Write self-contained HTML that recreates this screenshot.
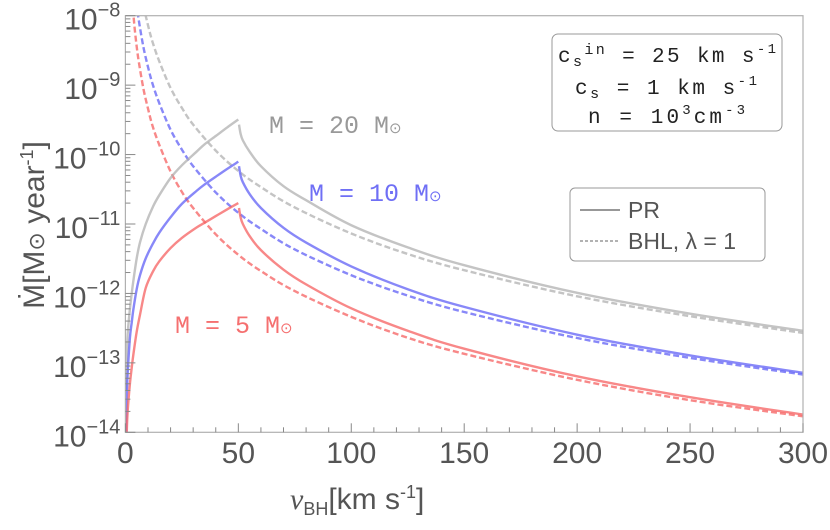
<!DOCTYPE html>
<html><head><meta charset="utf-8"><style>
body{margin:0;background:#fff}
svg text{font-family:"Liberation Sans",sans-serif}
.mono{font-family:"Liberation Mono",monospace}
</style></head><body>
<svg id="c" width="830" height="525" viewBox="0 0 830 525" xmlns="http://www.w3.org/2000/svg">
<g id="plot"></g>
<g id="axes"></g>
<text class="mono" x="269" y="133" font-size="25" fill="#999">M = 20 M<tspan font-size="15">⊙</tspan></text>
<text class="mono" x="309" y="201" font-size="25" fill="#6f6ff5">M = 10 M<tspan font-size="15">⊙</tspan></text>
<text class="mono" x="175" y="333" font-size="25" fill="#f57070">M = 5 M<tspan font-size="15">⊙</tspan></text>
<g>
<rect x="552" y="34" width="230" height="97" rx="6" fill="#fff" stroke="#999"/>
<text class="mono" x="558" y="62" font-size="21" fill="#222" textLength="218" lengthAdjust="spacing">c<tspan font-size="15" dy="4">s</tspan><tspan font-size="15" dy="-12">in</tspan><tspan dy="8"> = 25 km s</tspan><tspan font-size="14" dy="-9">-1</tspan></text>
<text class="mono" x="575" y="94" font-size="21" fill="#222" textLength="182" lengthAdjust="spacing">c<tspan font-size="15" dy="4">s</tspan><tspan dy="-4"> = 1 km s</tspan><tspan font-size="14" dy="-9">-1</tspan></text>
<text class="mono" x="588" y="123" font-size="21" fill="#222" textLength="157" lengthAdjust="spacing">n = 10<tspan font-size="14" dy="-9">3</tspan><tspan dy="9">cm</tspan><tspan font-size="14" dy="-9">-3</tspan></text>
</g>
<g>
<rect x="570" y="188" width="195" height="73" rx="5" fill="#fff" stroke="#999"/>
<line x1="580" y1="210" x2="620" y2="210" stroke="#777" stroke-width="1.5"/>
<text x="628" y="218" font-size="23" fill="#555">PR</text>
<line x1="580" y1="241" x2="620" y2="241" stroke="#999" stroke-width="1.5" stroke-dasharray="3,2"/>
<text x="628" y="249" font-size="23" fill="#555">BHL,  λ = 1</text>
</g>
<text x="290" y="509" font-size="30" fill="#555"><tspan font-family="Liberation Serif" font-style="italic">v</tspan><tspan font-size="18" dy="6">BH</tspan><tspan dy="-6">[km s</tspan><tspan font-size="18" dy="-11">-1</tspan><tspan dy="11">]</tspan></text>
<text transform="translate(44,225) rotate(-90)" font-size="30" fill="#555" text-anchor="middle">Ṁ[M<tspan font-size="22">⊙</tspan> year<tspan font-size="18" dy="-11">-1</tspan><tspan dy="11">]</tspan></text>
</svg>
<script>
const xTicks=[0,50,100,150,200,250,300];
const yExps=[-8,-9,-10,-11,-12,-13,-14];
const vLeft=[0.3,0.6,1,2,2.8,3.5,5,6.5,9,12.3,15,20,25,31.5,35,40,45,50];
const prLeft20=[4e-14,1.2e-13,2.6e-13,6e-13,1e-12,1.5e-12,3.2e-12,5.5e-12,1e-11,1.8e-11,2.6e-11,4.6e-11,7e-11,1.1e-10,1.4e-10,1.85e-10,2.45e-10,3.2e-10];
const prLeft10=[1e-14,3.2e-14,7e-14,2.3e-13,3.8e-13,5.8e-13,1.15e-12,1.85e-12,3.2e-12,5.3e-12,7.5e-12,1.25e-11,1.95e-11,3e-11,3.7e-11,4.8e-11,6.2e-11,7.9e-11];
const prLeft5=[3e-15,1e-14,2e-14,5e-14,8.5e-14,1.3e-13,2.8e-13,5e-13,1.2e-12,2.1e-12,2.9e-12,4.5e-12,6.3e-12,8.9e-12,1.04e-11,1.3e-11,1.62e-11,2e-11];
const vRight=[50.3,51,52,55,60,70,80,100,125,150,200,250,300];
const prRight20=[2.7e-10,2e-10,1.6e-10,1.1e-10,6.8e-11,3.5e-11,2.2e-11,9.6e-12,4.6e-12,2.55e-12,1.02e-12,5.1e-13,2.9e-13];
const prRight10=[6.8e-11,5e-11,4e-11,2.7e-11,1.7e-11,8.8e-12,5.4e-12,2.45e-12,1.15e-12,6.4e-13,2.55e-13,1.28e-13,7.2e-14];
const prRight5=[1.7e-11,1.25e-11,1e-11,6.7e-12,4.2e-12,2.2e-12,1.35e-12,6.1e-13,2.9e-13,1.6e-13,6.4e-14,3.2e-14,1.8e-14];
const vBhl=[3,4,5,6,8,10,12,15,20,25,30,40,50,60,75,100,125,150,200,250,300];
const bhl20=[2.7e-7,1.14e-7,5.7e-8,3.3e-8,1.4e-8,7.3e-9,4.2e-9,2.2e-9,9.1e-10,4.7e-10,2.7e-10,1.14e-10,5.8e-11,3.4e-11,1.73e-11,7.3e-12,3.7e-12,2.16e-12,9.1e-13,4.7e-13,2.7e-13];
const bhl10=[6.8e-8,2.85e-8,1.43e-8,8.3e-9,3.5e-9,1.83e-9,1.05e-9,5.5e-10,2.28e-10,1.18e-10,6.8e-11,2.85e-11,1.45e-11,8.5e-12,4.3e-12,1.83e-12,9.3e-13,5.4e-13,2.28e-13,1.18e-13,6.8e-14];
const bhl5=[1.7e-8,7.1e-9,3.6e-9,2.1e-9,8.8e-10,4.6e-10,2.6e-10,1.38e-10,5.7e-11,2.9e-11,1.7e-11,7.1e-12,3.6e-12,2.1e-12,1.08e-12,4.6e-13,2.3e-13,1.35e-13,5.7e-14,2.9e-14,1.7e-14];

const X0=125.4,X1=803,Y0=15.7,Y1=432.3;
const xs=v=>X0+(v/300)*(X1-X0);
const ys=m=>Y0+(-8-Math.log10(m))/6*(Y1-Y0);
const NS='http://www.w3.org/2000/svg';
const plot=document.getElementById('plot'),axes=document.getElementById('axes');
function mk(tag,attrs,parent){const e=document.createElementNS(NS,tag);for(const k in attrs)e.setAttribute(k,attrs[k]);parent.appendChild(e);return e;}
const defs=mk('defs',{},plot);const cp=mk('clipPath',{id:'cp'},defs);mk('rect',{x:X0,y:Y0,width:X1-X0,height:Y1-Y0},cp);
const g=mk('g',{'clip-path':'url(#cp)'},plot);
function smoothPath(pts){
  let d='M'+pts[0][0].toFixed(2)+','+pts[0][1].toFixed(2);
  for(let i=0;i<pts.length-1;i++){
    const p0=pts[Math.max(0,i-1)],p1=pts[i],p2=pts[i+1],p3=pts[Math.min(pts.length-1,i+2)];
    const c1=[p1[0]+(p2[0]-p0[0])/6,p1[1]+(p2[1]-p0[1])/6];
    const c2=[p2[0]-(p3[0]-p1[0])/6,p2[1]-(p3[1]-p1[1])/6];
    d+='C'+c1[0].toFixed(2)+','+c1[1].toFixed(2)+' '+c2[0].toFixed(2)+','+c2[1].toFixed(2)+' '+p2[0].toFixed(2)+','+p2[1].toFixed(2);
  }
  return d;
}
function line(vs,ms,color,dash,name){
  const pts=vs.map((v,i)=>[xs(v),ys(ms[i])]);
  const p=mk('path',{d:smoothPath(pts),fill:'none',stroke:color,'stroke-width':2.4,'stroke-opacity':0.75},g);
  if(dash)p.setAttribute('stroke-dasharray','6,3');
  
  
}
const cG='#b0b0b0',cB='#6060f5',cR='#f56060';
line(vBhl,bhl20,cG,true,'bhl-m20');
line(vBhl,bhl10,cB,true,'bhl-m10');
line(vBhl,bhl5,cR,true,'bhl-m5');
line(vLeft,prLeft20,cG,false,'pr-m20-subsonic');
line(vRight,prRight20,cG,false,'pr-m20-supersonic');
line(vLeft,prLeft10,cB,false,'pr-m10-subsonic');
line(vRight,prRight10,cB,false,'pr-m10-supersonic');
line(vLeft,prLeft5,cR,false,'pr-m5-subsonic');
line(vRight,prRight5,cR,false,'pr-m5-supersonic');
const fr=mk('rect',{x:X0,y:Y0,width:X1-X0,height:Y1-Y0,fill:'none',stroke:'#b0b0b0','stroke-width':1.2},axes);


for(let v=0;v<=300;v+=10){mk('line',{x1:xs(v),x2:xs(v),y1:Y1,y2:Y1-(v%50===0?9:5),stroke:'#888'},axes);}
xTicks.forEach(v=>{const t=mk('text',{x:xs(v),y:463,'font-size':30,fill:'#555','text-anchor':'middle'},axes);t.textContent=v;

});
yExps.forEach(e=>{const y=ys(Math.pow(10,e));mk('line',{x1:X0,x2:X0+10,y1:y,y2:y,stroke:'#888'},axes);
 if(e>-14)for(let k=2;k<=9;k++){const yy=ys(k*Math.pow(10,e-1));mk('line',{x1:X0,x2:X0+5,y1:yy,y2:yy,stroke:'#888'},axes);}
 const t=mk('text',{x:X0-5,y:y+14,'font-size':30,fill:'#555','text-anchor':'end'},axes);
 t.innerHTML='10<tspan font-size="20" dy="-13">\u2212'+(-e)+'</tspan>';
 
 });
</script>
</body></html>
